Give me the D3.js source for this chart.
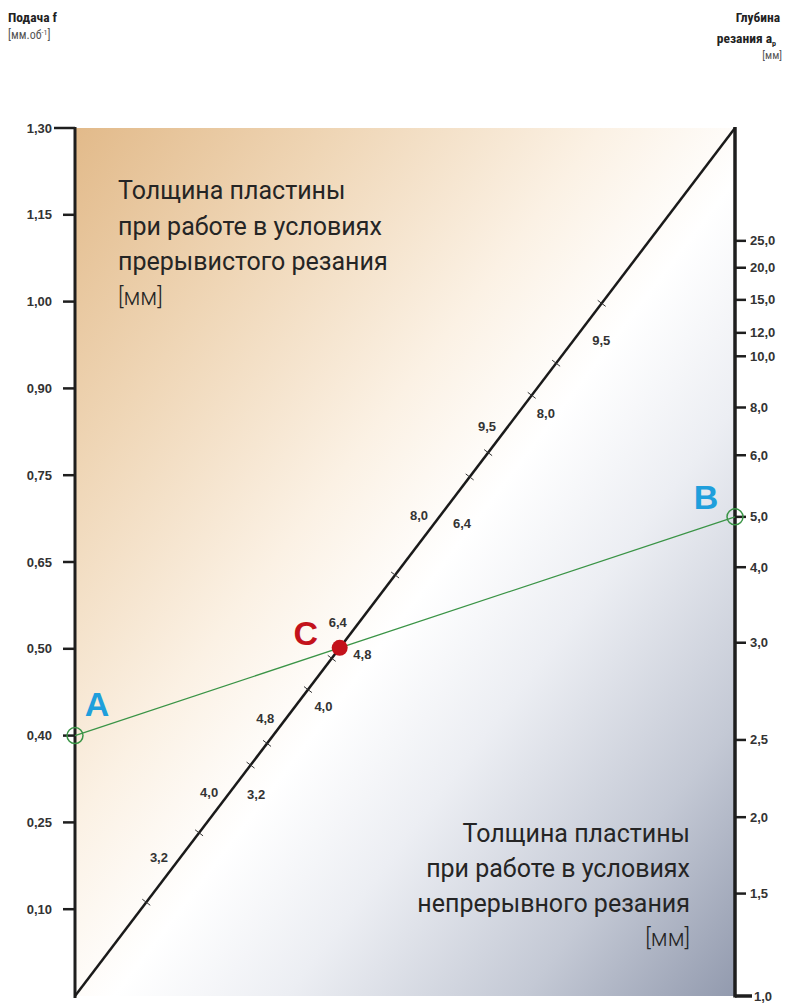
<!DOCTYPE html>
<html><head><meta charset="utf-8">
<script src="https://cdn.jsdelivr.net/npm/d3@7/dist/d3.min.js"></script>
<style>body{margin:0;background:#fff}svg{display:block}</style>
</head><body>
<script>
// ---- data ----
const feedValues = [1.30, 1.15, 1.00, 0.90, 0.75, 0.65, 0.50, 0.40, 0.25, 0.10];
const depthValues = [25.0, 20.0, 15.0, 12.0, 10.0, 8.0, 6.0, 5.0, 4.0, 3.0, 2.5, 2.0, 1.5, 1.0];
// position of each depth tick along the right axis (fraction of axis height)
const depthPos = [0.870, 0.839, 0.802, 0.764, 0.737, 0.678, 0.623, 0.552, 0.494, 0.407, 0.295, 0.206, 0.118, 0.0];
const insertLabels = ["3,2", "4,0", "4,8", "6,4", "8,0", "9,5"];
// position along the diagonal (fraction) of the interrupted-cut labels (upper-left side)
const interruptedPos = [0.159, 0.235, 0.320, 0.430, 0.553, 0.656];
// position along the diagonal of the continuous-cut labels (lower-right side)
const continuousPos = [0.232, 0.334, 0.393, 0.544, 0.671, 0.755];
// tick marks on the diagonal
const diagTicks = [0.108, 0.188, 0.266, 0.291, 0.353, 0.389, 0.485, 0.598, 0.626, 0.692, 0.729, 0.798];
const pointA = 0.40; // feed
const pointB = 5.0;  // depth of cut

// ---- layout ----
const W = 786, H = 1003;
const pL = 75, pR = 735, pT = 128, pB = 996;

const svg = d3.select("body").append("svg").attr("width", W).attr("height", H);
const fmt = d3.formatLocale({decimal: ",", thousands: " ", grouping: [3], currency: ["", ""]});
const f2 = fmt.format(".2f"), f1 = fmt.format(".1f");

// scales
const yLeft = d3.scalePoint().domain(feedValues.concat(["end"])).range([pT, pB]);
const depthFrac = d3.scaleOrdinal().domain(depthValues).range(depthPos);
const yFrac = d3.scaleLinear().domain([0, 1]).range([pB, pT]);
const yRight = v => yFrac(depthFrac(v));
const diagX = d3.scaleLinear().domain([0, 1]).range([pL, pR]);
const diagY = yFrac;

// background gradient
const defs = svg.append("defs");
const g = defs.append("linearGradient").attr("id", "bg").attr("x1", 0).attr("y1", 0).attr("x2", 1).attr("y2", 1);
[[0, "#e2ba8a"], [0.2, "#efd6b6"], [0.4, "#fbf1e4"], [0.53, "#ffffff"], [0.66, "#eceef3"], [0.84, "#c4c9d5"], [1, "#929aae"]]
  .forEach(s => g.append("stop").attr("offset", s[0]).attr("stop-color", s[1]));
svg.append("rect").attr("x", pL).attr("y", pT).attr("width", pR - pL).attr("height", pB - pT).attr("fill", "url(#bg)");

// header texts
const hdrFont = "'Liberation Sans Narrow','Roboto Condensed',Arial,sans-serif";
svg.append("text").attr("x", 8).attr("y", 22).attr("font-family", hdrFont).attr("font-weight", "bold")
  .attr("font-size", 13.5).attr("fill", "#222").text("Подача f");
const t2 = svg.append("text").attr("x", 8).attr("y", 39).attr("font-family", hdrFont)
  .attr("font-size", 12).attr("fill", "#555");
t2.append("tspan").text("[мм.об");
t2.append("tspan").attr("font-size", 8).attr("dy", -4).text("-1");
t2.append("tspan").attr("dy", 4).text("]");

svg.append("text").attr("x", 780).attr("y", 22).attr("text-anchor", "end").attr("font-family", hdrFont)
  .attr("font-weight", "bold").attr("font-size", 13.5).attr("fill", "#222").text("Глубина");
const t3 = svg.append("text").attr("x", 776).attr("y", 43).attr("text-anchor", "end").attr("font-family", hdrFont)
  .attr("font-weight", "bold").attr("font-size", 13.5).attr("fill", "#222");
t3.append("tspan").text("резания a");
t3.append("tspan").attr("font-size", 8).attr("dy", 3).text("p");
svg.append("text").attr("x", 782).attr("y", 59).attr("text-anchor", "end").attr("font-family", hdrFont)
  .attr("font-size", 11).attr("fill", "#555").text("[мм]");

// big text blocks
const bigFont = "Roboto, Arial, sans-serif";
const tl = ["Толщина пластины", "при работе в условиях", "прерывистого резания"];
tl.forEach((s, i) => svg.append("text").attr("x", 118).attr("y", 199 + i * 35.5)
  .attr("font-family", bigFont).attr("font-size", 25).attr("fill", "#252525").text(s));
svg.append("text").attr("x", 118).attr("y", 305).attr("font-family", bigFont).attr("font-size", 23)
  .attr("font-weight", 300).attr("fill", "#252525").text("[мм]");
const br = ["Толщина пластины", "при работе в условиях", "непрерывного резания"];
br.forEach((s, i) => svg.append("text").attr("x", 690).attr("y", 842 + i * 35).attr("text-anchor", "end")
  .attr("font-family", bigFont).attr("font-size", 25).attr("fill", "#252525").text(s));
svg.append("text").attr("x", 690).attr("y", 946).attr("text-anchor", "end").attr("font-family", bigFont)
  .attr("font-size", 23).attr("font-weight", 300).attr("fill", "#252525").text("[мм]");

// left axis
const tickFont = "'Liberation Sans', Arial, sans-serif";
svg.append("line").attr("x1", pL).attr("x2", pL).attr("y1", pT - 1).attr("y2", pB + 2)
  .attr("stroke", "#1e1e1e").attr("stroke-width", 3);
feedValues.forEach((v, i) => {
  const y = yLeft(v);
  svg.append("line").attr("x1", i === 0 ? 54 : 63).attr("x2", pL).attr("y1", y).attr("y2", y)
    .attr("stroke", "#1e1e1e").attr("stroke-width", 2.5);
  svg.append("text").attr("x", 52).attr("y", y + 4.5).attr("text-anchor", "end").attr("font-family", tickFont)
    .attr("font-weight", "bold").attr("font-size", 13).attr("fill", "#333").text(f2(v));
});

// right axis
svg.append("line").attr("x1", pR).attr("x2", pR).attr("y1", pT - 1).attr("y2", pB + 1.5)
  .attr("stroke", "#1e1e1e").attr("stroke-width", 3.5);
depthValues.forEach((v, i) => {
  const y = yRight(v);
  const last = i === depthValues.length - 1;
  svg.append("line").attr("x1", pR).attr("x2", last ? 752 : 746).attr("y1", y).attr("y2", y)
    .attr("stroke", "#1e1e1e").attr("stroke-width", last ? 3.5 : 2.5);
  svg.append("text").attr("x", last ? 754 : 750).attr("y", y + 4.5).attr("font-family", tickFont)
    .attr("font-weight", "bold").attr("font-size", 13).attr("fill", "#333").text(f1(v));
});

// diagonal
svg.append("line").attr("x1", diagX(0)).attr("y1", diagY(0)).attr("x2", diagX(1)).attr("y2", diagY(1))
  .attr("stroke", "#1a1a1a").attr("stroke-width", 2.5);
const dx = pR - pL, dy = pB - pT, len = Math.hypot(dx, dy);
const nx = dy / len, ny = dx / len; // perpendicular (down-right)
diagTicks.forEach(t => {
  const x = diagX(t), y = diagY(t);
  svg.append("line").attr("x1", x - nx * 5).attr("y1", y - ny * 5).attr("x2", x + nx * 5).attr("y2", y + ny * 5)
    .attr("stroke", "#333").attr("stroke-width", 1);
});
insertLabels.forEach((s, i) => {
  const t = interruptedPos[i];
  svg.append("text").attr("x", diagX(t) - 21).attr("y", diagY(t) + 4.5).attr("text-anchor", "middle")
    .attr("font-family", tickFont).attr("font-weight", "bold").attr("font-size", 13).attr("fill", "#333").text(s);
  const u = continuousPos[i];
  svg.append("text").attr("x", diagX(u) + 28).attr("y", diagY(u) + 4.5).attr("text-anchor", "middle")
    .attr("font-family", tickFont).attr("font-weight", "bold").attr("font-size", 13).attr("fill", "#333").text(s);
});

// construction line A-B and intersection C
const A = [pL, yLeft(pointA)], B = [pR, yRight(pointB)];
const P0 = [diagX(0), diagY(0)], P1 = [diagX(1), diagY(1)];
function intersect(p1, p2, p3, p4) {
  const d = (p1[0] - p2[0]) * (p3[1] - p4[1]) - (p1[1] - p2[1]) * (p3[0] - p4[0]);
  const a = p1[0] * p2[1] - p1[1] * p2[0], b = p3[0] * p4[1] - p3[1] * p4[0];
  return [(a * (p3[0] - p4[0]) - (p1[0] - p2[0]) * b) / d, (a * (p3[1] - p4[1]) - (p1[1] - p2[1]) * b) / d];
}
const C = intersect(A, B, P0, P1);
const green = "#3a9446";
svg.append("line").attr("x1", A[0]).attr("y1", A[1]).attr("x2", B[0]).attr("y2", B[1])
  .attr("stroke", green).attr("stroke-width", 1.3);
[A, B].forEach(p => svg.append("circle").attr("cx", p[0]).attr("cy", p[1]).attr("r", 8)
  .attr("fill", "none").attr("stroke", green).attr("stroke-width", 1.5));
svg.append("circle").attr("cx", C[0]).attr("cy", C[1]).attr("r", 8).attr("fill", "#c3121b");

const letterFont = "'Liberation Sans', Arial, sans-serif";
svg.append("text").attr("x", A[0] + 22).attr("y", A[1] - 20).attr("text-anchor", "middle").attr("font-family", letterFont)
  .attr("font-weight", "bold").attr("font-size", 34).attr("fill", "#1f9fdc").text("A");
svg.append("text").attr("x", B[0] - 29).attr("y", B[1] - 8).attr("text-anchor", "middle").attr("font-family", letterFont)
  .attr("font-weight", "bold").attr("font-size", 34).attr("fill", "#1f9fdc").text("B");
svg.append("text").attr("x", C[0] - 34).attr("y", C[1] - 3).attr("text-anchor", "middle").attr("font-family", letterFont)
  .attr("font-weight", "bold").attr("font-size", 34).attr("fill", "#c3121b").text("C");
</script>
</body></html>
